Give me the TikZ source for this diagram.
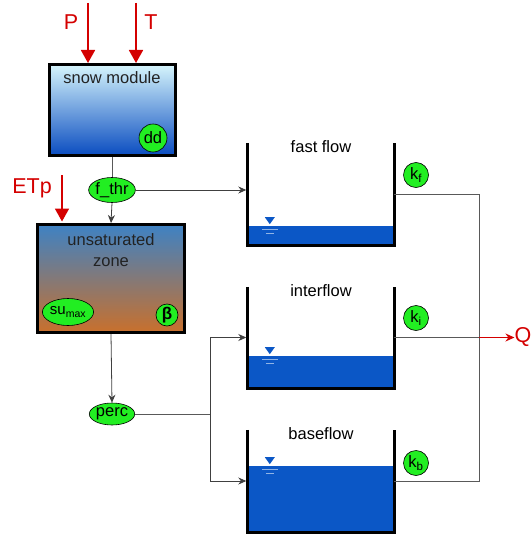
\documentclass[tikz,border=0pt]{standalone}
\usepackage{fontspec}
\setmainfont{Liberation Sans}
\usepackage{xcolor}
\usetikzlibrary{arrows.meta,positioning,shapes.geometric}

\definecolor{forcered}{HTML}{D40000}
\definecolor{pargreen}{HTML}{22EE22}
\definecolor{water}{HTML}{0B57C6}
\definecolor{snowtop}{HTML}{D6F5FC}
\definecolor{snowmid}{HTML}{66C2EA}
\definecolor{snowbot}{HTML}{0A4CC0}
\definecolor{soiltop}{HTML}{3E82C4}
\definecolor{soilmid}{HTML}{8A8080}
\definecolor{soilbot}{HTML}{C9702C}
\definecolor{boxtext}{HTML}{222222}

\begin{document}
\begin{tikzpicture}[
        x=1pt, y=-1pt,
        >=Stealth,
        font=\fontsize{16.5}{19}\selectfont,
        store/.style={
            draw=black,
            line width=3pt,
            inner sep=0pt
        },
        storetext/.style={
            anchor=north,
            align=center,
            text=boxtext,
            inner sep=0pt,
            font=\fontsize{16.5}{21}\selectfont
        },
        param/.style={
            ellipse,
            draw=black,
            line width=0.6pt,
            fill=pargreen,
            inner sep=0pt,
            font=\fontsize{16.5}{17}\selectfont
        },
        kpar/.style={param, circle, minimum size=25pt},
        tank/.style={minimum width=146pt, inner sep=0pt},
        wall/.style={line width=3pt, line join=miter},
        flow/.style={-{Stealth[length=8pt,width=7pt]}, line width=0.8pt, draw=black!75},
        outflow/.style={line width=0.8pt, draw=black!65},
        forcing/.style={-{Triangle[length=13pt,width=14pt]}, line width=1.8pt, draw=forcered},
        redlabel/.style={text=forcered, font=\fontsize{21.5}{22}\selectfont, inner sep=0pt}
    ]
        \useasboundingbox (0,0) rectangle (530,535);

        % stores on the left
        \node[store, minimum width=126pt, minimum height=91pt,
              top color=snowtop, middle color=snowmid, bottom color=snowbot] (snow) at (112,110) {};
        \node[storetext, below=8pt of snow.north] (snowtxt) {snow module};
        \node[store, minimum width=147pt, minimum height=108pt,
              top color=soiltop, middle color=soilmid, bottom color=soilbot] (unsat) at (111,278.5) {};
        \node[storetext, below=10pt of unsat.north] (unsattxt) {unsaturated\\zone};

        % parameters
        \node[kpar, minimum size=28pt] (dd) at (153,138) {dd};
        \node[param, minimum width=46pt, minimum height=25pt] (fthr) at (112,190) {f\_thr};
        \node[param, minimum width=47pt, minimum height=27pt, font=\fontsize{15}{15}\selectfont] (sumax) at (68,312) {su\textsubscript{max}};
        \node[kpar, minimum size=22pt, font=\fontsize{17}{17}\selectfont] (beta) at (167,315) {\textbf{β}};
        \node[param, minimum width=45pt, minimum height=22pt] (perc) at (112,414) {perc};

        % forcing
        \node[redlabel] (P) at (71,22) {P};
        \node[redlabel] (T) at (151,22) {T};
        \node[redlabel] (ETp) at (32,188) {ETp};
        \coordinate (Ptop) at (88,3);
        \coordinate (Ttop) at (136,3);
        \coordinate (ETptop) at (62,175);
        \draw[forcing] (Ptop) -- (Ptop |- snow.north);
        \draw[forcing] (Ttop) -- (Ttop |- snow.north);
        \draw[forcing, shorten >=1.5pt] (ETptop) -- (ETptop |- unsat.north);

        % reservoirs
        \node[tank, minimum height=102pt] (fast) at (321,194) {};
        \node[tank, minimum height=101pt] (inter) at (321,337.5) {};
        \node[tank, minimum height=102pt] (base) at (321,481) {};

        \foreach \t/\h/\name in {fast/19/fast flow, inter/32/interflow, base/66/baseflow}{
            \fill[water] (\t.south west) rectangle ([yshift=\h pt]\t.south east);
            \coordinate (\t lev) at ([xshift=22pt,yshift=\h pt]\t.south west);
            \fill[water] ([yshift=2pt]\t lev) -- ++(-5,-7) -- ++(10,0) -- cycle;
            \draw[white!55!water, line width=0.7pt] ([xshift=-8pt,yshift=-3pt]\t lev) -- ++(16,0);
            \draw[white!55!water, line width=0.7pt] ([xshift=-4pt,yshift=-7pt]\t lev) -- ++(8,0);
            \draw[wall] (\t.north west) -- (\t.south west) -- (\t.south east) -- (\t.north east);
            \node[anchor=north, inner sep=0pt, yshift=2pt] at (\t.north) {\name};
        }

        \node[kpar] (kf) at (416,175) {k\textsubscript{f}};
        \node[kpar] (ki) at (416,318) {k\textsubscript{i}};
        \node[kpar] (kb) at (416,463) {k\textsubscript{b}};

        % fluxes
        \draw[outflow] (snow.south) -- (fthr.north);
        \draw[flow] (fthr.south) -- (unsat.north);
        \draw[flow, shorten >=1.5pt] (fthr.east) -- (fast.west |- fthr.east);
        \draw[flow] (unsat.south) -- (perc.north);

        \coordinate (split) at (210,414);
        \draw[outflow] (perc.east) -- (split);
        \draw[flow, shorten >=1.5pt] (split) |- (inter.west);
        \draw[flow, shorten >=1.5pt] (split) |- (base.west);

        \coordinate (junc) at (479,337.5);
        \node[redlabel] (Q) at (523,337.5) {Q};
        \draw[outflow] (fast.east) -| (junc);
        \draw[outflow] (junc) |- (base.east);
        \draw[outflow] (inter.east) -- (junc);
        \draw[-{Stealth[length=9pt,width=8pt]}, line width=0.9pt, draw=forcered] (junc) -- (Q.west);
    \end{tikzpicture}
\end{document}
